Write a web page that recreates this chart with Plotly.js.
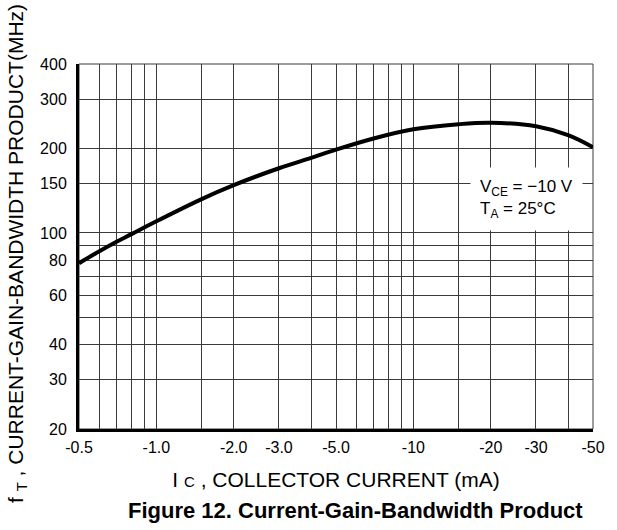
<!DOCTYPE html>
<html>
<head>
<meta charset="utf-8">
<script src="https://cdn.plot.ly/plotly-3.0.1.min.js"></script>
<style>
  html, body { margin: 0; padding: 0; background: #fff; }
  #chart { width: 617px; height: 530px; }
</style>
</head>
<body>
<div id="chart"></div>
<script>
// Collector current magnitude (mA) and fT (MHz)
const currentmA = [0.5, 0.6, 0.7, 0.8, 1.0, 1.5, 2, 3, 4, 5, 7, 10, 15, 20, 30, 40, 50];
const ftMHz     = [78, 86, 93, 99, 110, 132, 148, 170, 185, 198, 217, 234, 244, 247, 240, 223, 202];

// Axis labels
const xTickVals = [0.5, 1, 2, 3, 5, 10, 20, 30, 50];
const xTickText = ['-0.5', '-1.0', '-2.0', '-3.0', '-5.0', '-10', '-20', '-30', '-50'];
const xExtraGrid = [0.6, 0.7, 0.8, 0.9, 1.5, 4, 6, 7, 8, 9, 15, 40];
const yTickVals = [20, 30, 40, 60, 80, 100, 150, 200, 300, 400];
const yTickText = ['20', '30', '40', '60', '80', '100', '150', '200', '300', '400'];
const yExtraGrid = [50, 70, 90];

const FONT = 'Liberation Sans, Arial, Helvetica, sans-serif';
const GRID = '#3a3a3a';

const trace = {
  x: currentmA,
  y: ftMHz,
  type: 'scatter',
  mode: 'lines',
  line: { color: '#000', width: 4, shape: 'spline', smoothing: 1 },
  hoverinfo: 'skip',
  cliponaxis: true
};

const layout = {
  width: 617,
  height: 530,
  margin: { l: 79, r: 19, t: 64, b: 101 },
  paper_bgcolor: '#fff',
  plot_bgcolor: '#fff',
  showlegend: false,
  font: { family: FONT, color: '#000', size: 16 },
  xaxis: {
    type: 'log',
    range: [Math.log10(0.5), Math.log10(50)],
    tickmode: 'array',
    tickvals: xTickVals,
    ticktext: xTickText,
    ticks: '',
    ticklabelstandoff: 2,
    tickfont: { size: 16, family: FONT, color: '#000' },
    showgrid: true,
    gridcolor: GRID,
    gridwidth: 1,
    minor: { tickmode: 'array', tickvals: xExtraGrid, showgrid: true, gridcolor: GRID, gridwidth: 1, ticks: '' },
    showline: true,
    linecolor: '#000',
    linewidth: 3,
    zeroline: false,
    fixedrange: true,
    automargin: true,
    title: {
      text: 'I <span style="font-size:15px">C</span> , COLLECTOR CURRENT (mA)',
      font: { size: 21, family: FONT, color: '#000' },
      standoff: 18
    }
  },
  yaxis: {
    type: 'log',
    range: [Math.log10(20), Math.log10(400)],
    tickmode: 'array',
    tickvals: yTickVals,
    ticktext: yTickText,
    ticks: '',
    ticklabelstandoff: 6,
    tickfont: { size: 16, family: FONT, color: '#000' },
    showgrid: true,
    gridcolor: GRID,
    gridwidth: 1,
    minor: { tickmode: 'array', tickvals: yExtraGrid, showgrid: true, gridcolor: GRID, gridwidth: 1, ticks: '' },
    showline: true,
    linecolor: '#000',
    linewidth: 3,
    zeroline: false,
    fixedrange: true,
    title: { text: '' }
  },
  shapes: [
    { type: 'rect', xref: 'paper', yref: 'paper', x0: 0, x1: 1, y0: 0, y1: 1,
      line: { color: GRID, width: 1 }, fillcolor: 'rgba(0,0,0,0)', layer: 'below' }
  ],
  annotations: [
    {
      text: 'f <sub>T</sub> , CURRENT-GAIN-BANDWIDTH PRODUCT(MHz)',
      xref: 'paper', yref: 'paper',
      x: -0.121, y: 0.482,
      xanchor: 'center', yanchor: 'middle',
      textangle: -90,
      showarrow: false,
      font: { size: 21, family: FONT, color: '#000' }
    },
    {
      text: '<b>Figure 12. Current-Gain-Bandwidth Product</b>',
      xref: 'paper', yref: 'paper',
      x: 0.537, y: -0.222,
      xanchor: 'center', yanchor: 'middle',
      showarrow: false,
      font: { size: 22, family: FONT, color: '#000' }
    },
    {
      text: 'V<sub>CE</sub> = \u221210 V<br>T<sub>A</sub> = 25\u00b0C',
      xref: 'paper', yref: 'paper',
      x: 0.870, y: 0.629,
      xanchor: 'center', yanchor: 'middle',
      align: 'left',
      width: 93,
      height: 44,
      bgcolor: '#fff',
      borderpad: 9,
      showarrow: false,
      font: { size: 17, family: FONT, color: '#000' }
    }
  ]
};

Plotly.newPlot('chart', [trace], layout, { staticPlot: true, displayModeBar: false });
</script>
</body>
</html>
